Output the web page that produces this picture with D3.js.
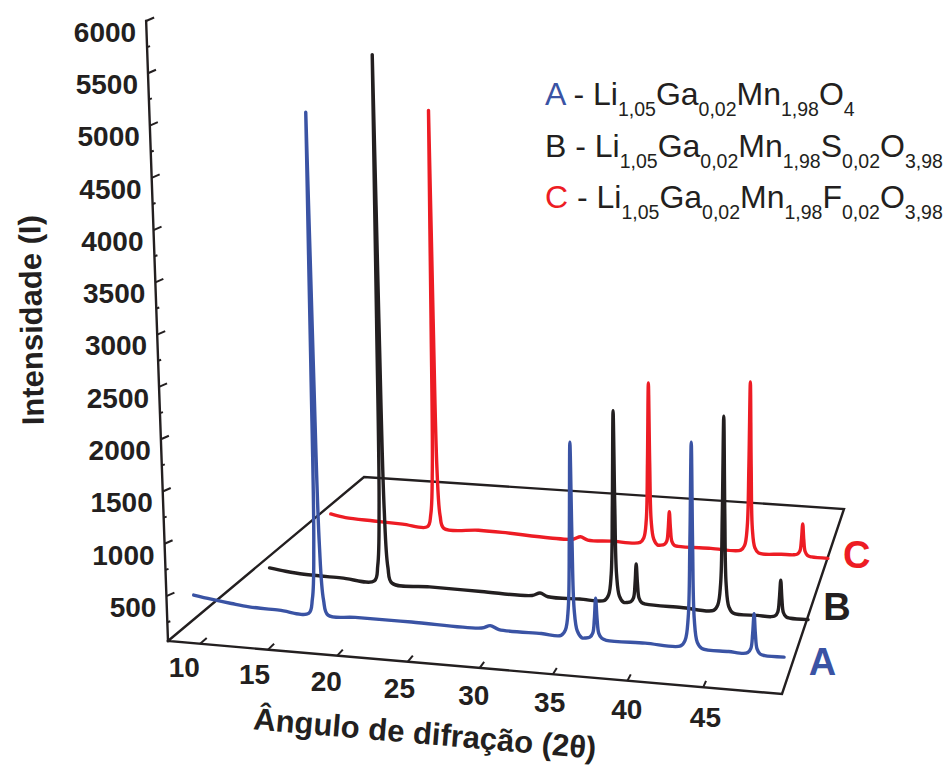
<!doctype html>
<html>
<head>
  <meta charset="utf-8">
  <style>
      body { margin:0; background:#fff; }
      svg  { display:block; }
      text { font-family:"Liberation Sans", Arial, Helvetica, sans-serif; fill:#231f20; }
      .frame line, .frame path { stroke:#231f20; stroke-width:2.4; fill:none; stroke-linecap:square; }
      .tick { stroke:#231f20; stroke-width:2; }
      .trace { fill:none; stroke-width:3.4; stroke-linejoin:round; stroke-linecap:round; }
  </style>
  <script src="https://cdn.jsdelivr.net/npm/d3@7"></script>
</head>
<body>
  <script>

      // ---- data ----
      var angleTicks = [10, 15, 20, 25, 30, 35, 40, 45];
      var intensityTicks = [500, 1000, 1500, 2000, 2500, 3000, 3500, 4000, 4500, 5000, 5500, 6000];
      var intensityMinor = [250, 750, 1250, 1750, 2250, 2750, 3250, 3750, 4250, 4750, 5250, 5750];

      var seriesNames = ["A", "B", "C"];

      // [2theta, intensity]
      var seriesA = [
         [9.2,480],[10.5,455],[12,430],[13.3,412],[15.5,405],
         [17.65,398],[17.95,542],[18.15,1070],[18.26,2799],[18.35,5200],[18.44,2799],[18.55,1070],[18.75,542],[19.05,398],
         [21,398],[25,400],[29.9,400],[30.5,430],[31.1,400],[34,396],
         [35.35,395],[35.65,451],[35.85,655],[35.96,1323],[36.05,2250],[36.14,1323],[36.25,655],[36.45,451],[36.75,390],
         [37.0,390],[37.3,402],[37.5,445],[37.61,585],[37.7,780],[37.79,585],[37.9,445],[38.1,400],[38.4,385],
         [41,390],
         [43.35,392],[43.65,451],[43.85,666],[43.96,1371],[44.05,2350],[44.14,1371],[44.25,660],[44.45,440],[44.75,385],
         [46.5,378],
         [47.45,372],[47.75,384],[47.95,426],[48.06,566],[48.15,760],[48.24,566],[48.35,426],[48.55,380],[48.85,368],
         [50.1,370]
      ];
      var seriesB = [
         [9.2,125],[10.5,105],[12,90],[15,84],
         [17.65,80],[17.95,231],[18.15,786],[18.26,2600],[18.35,5120],[18.44,2600],[18.55,780],[18.75,220],[19.05,72],
         [22,65],[26,60],[29.9,60],[30.5,90],[31.1,60],[33.5,62],
         [35.35,68],[35.65,123],[35.85,323],[35.96,979],[36.05,1890],[36.14,979],[36.25,320],[36.45,120],[36.75,65],
         [37.0,65],[37.3,76],[37.5,117],[37.61,253],[37.7,440],[37.79,253],[37.9,117],[38.1,75],[38.4,63],
         [41,58],
         [43.35,55],[43.65,111],[43.85,316],[43.96,988],[44.05,1920],[44.14,988],[44.25,310],[44.45,100],[44.75,45],
         [46.5,40],
         [47.45,38],[47.75,49],[47.95,88],[48.06,217],[48.15,395],[48.24,217],[48.35,88],[48.55,48],[48.85,38],
         [50.1,38]
      ];
      var seriesC = [
         [9.2,137],[10.5,112],[13,100],[15.5,90],
         [17.65,82],[17.95,202],[18.15,640],[18.26,2076],[18.35,4070],[18.44,2076],[18.55,635],[18.75,195],[19.05,78],
         [22,84],[24,80],[28,60],[29.9,64],[30.5,92],[31.1,66],[33,72],
         [35.35,80],[35.65,126],[35.85,294],[35.96,845],[36.05,1610],[36.14,845],[36.25,290],[36.45,120],[36.75,68],
         [37.0,68],[37.3,78],[37.5,114],[37.61,232],[37.7,395],[37.79,232],[37.9,112],[38.1,76],[38.4,68],
         [41,72],
         [43.35,76],[43.65,124],[43.85,302],[43.96,883],[44.05,1690],[44.14,883],[44.25,290],[44.45,110],[44.75,60],
         [46.5,65],
         [47.45,68],[47.75,77],[47.95,110],[48.06,219],[48.15,370],[48.24,219],[48.35,108],[48.55,70],[48.85,60],
         [50.1,58]
      ];

      // legend formulas: [element, subscript]
      var formulaA = [["Li","1,05"],["Ga","0,02"],["Mn","1,98"],["O","4"]];
      var formulaB = [["Li","1,05"],["Ga","0,02"],["Mn","1,98"],["S","0,02"],["O","3,98"]];
      var formulaC = [["Li","1,05"],["Ga","0,02"],["Mn","1,98"],["F","0,02"],["O","3,98"]];

      var xTitle = "Ângulo de difração (2θ)";
      var yTitle = "Intensidade (I)";

      // ---- layout / style ----
      var colors = ["#3a53a4", "#231f20", "#ed1c24"];
      var depths = [0.03, 0.42, 0.74];          // position of each trace in the depth direction
      var labelShift = [[9,-29],[2,-12],[4,-4]];

      // floor corners (front-left, front-right, back-left, back-right)
      var FL = [168,641], FR = [782,694], BL = [364,477], BR = [844,509];
      var vanishX = 690, vanishDist = 14800;

      var xScale = d3.scaleLinear().domain([7.6, 50.1]).range([0, 1]);
      var hScale = d3.scaleLinear().domain([70, 6000]).range([0, 620]);

      // slight foreshortening along the angle axis
      function warp(t) { return t * (0.922 + 0.078 * t); }

      function floorPt(u, v) {
         var fx = (1-u)*FL[0] + u*FR[0], fy = (1-u)*FL[1] + u*FR[1];
         var bx = (1-u)*BL[0] + u*BR[0], by = (1-u)*BL[1] + u*BR[1];
         return [(1-v)*fx + v*bx, (1-v)*fy + v*by];
      }

      function project(angle, depth, intensity) {
         var p = floorPt(warp(xScale(angle)), depth);
         var h = hScale(intensity);
         return [p[0] + (p[0]-vanishX)*h/vanishDist, p[1] - h];
      }

      var svg = d3.select("body").append("svg")
         .attr("width", 944)
         .attr("height", 767);

      // ---- floor and axes ----
      var frame = svg.append("g").attr("class", "frame");

      frame.append("path")
         .attr("d", d3.line()([FL, FR, BR, BL, FL]));

      var x0 = xScale.invert(0);
      var axisTop = project(x0, 0, 6000);
      frame.append("line")
         .attr("x1", FL[0]).attr("y1", FL[1])
         .attr("x2", axisTop[0]).attr("y2", axisTop[1]);

      // intensity ticks
      svg.append("g").selectAll("line")
         .data(intensityTicks)
         .enter()
         .append("line")
         .attr("class", "tick")
         .attr("x1", function(d) { return project(x0, 0, d)[0]; })
         .attr("y1", function(d) { return project(x0, 0, d)[1]; })
         .attr("x2", function(d) { return project(x0, 0, d)[0] + 8; })
         .attr("y2", function(d) { return project(x0, 0, d)[1] - 3.5; });

      svg.append("g").selectAll("line")
         .data(intensityMinor)
         .enter()
         .append("line")
         .attr("class", "tick")
         .attr("x1", function(d) { return project(x0, 0, d)[0]; })
         .attr("y1", function(d) { return project(x0, 0, d)[1]; })
         .attr("x2", function(d) { return project(x0, 0, d)[0] + 3; })
         .attr("y2", function(d) { return project(x0, 0, d)[1] - 1; });

      svg.append("g").selectAll("text")
         .data(intensityTicks)
         .enter()
         .append("text")
         .attr("x", function(d) { return project(x0, 0, d)[0] - 10; })
         .attr("y", function(d) { return project(x0, 0, d)[1] + 11; })
         .attr("dy", "0.35em")
         .attr("text-anchor", "end")
         .style("font-size", "28px")
         .style("font-weight", "bold")
         .text(function(d) { return d; });

      // angle ticks
      svg.append("g").selectAll("line")
         .data(angleTicks)
         .enter()
         .append("line")
         .attr("class", "tick")
         .attr("x1", function(d) { return floorPt(warp(xScale(d)), 0)[0]; })
         .attr("y1", function(d) { return floorPt(warp(xScale(d)), 0)[1]; })
         .attr("x2", function(d) { return floorPt(warp(xScale(d)), 0.035)[0]; })
         .attr("y2", function(d) { return floorPt(warp(xScale(d)), 0.035)[1]; });

      svg.append("g").selectAll("text")
         .data(angleTicks)
         .enter()
         .append("text")
         .attr("x", function(d) { var u = warp(xScale(d)); return floorPt(u, 0)[0] - 17 + 22*u; })
         .attr("y", function(d) { var u = warp(xScale(d)); return floorPt(u, 0)[1] + 23 + 8*u; })
         .attr("dy", "0.35em")
         .attr("text-anchor", "middle")
         .style("font-size", "28px")
         .style("font-weight", "bold")
         .text(function(d) { return d; });

      // titles
      svg.append("text")
         .attr("transform", "translate(424,744) rotate(4.9)")
         .attr("text-anchor", "middle")
         .style("font-size", "31px")
         .style("font-weight", "bold")
         .text(xTitle);

      svg.append("text")
         .attr("transform", "translate(42,320) rotate(-91)")
         .attr("text-anchor", "middle")
         .style("font-size", "31px")
         .style("font-weight", "bold")
         .text(yTitle);

      // ---- traces, back to front ----
      var allSeries = [seriesA, seriesB, seriesC];
      [2, 1, 0].forEach(function(i) {
         var line = d3.line()
            .x(function(d) { return project(d[0], depths[i], d[1])[0]; })
            .y(function(d) { return project(d[0], depths[i], d[1])[1]; })
            .curve(d3.curveCatmullRom.alpha(0.5));
         svg.append("path")
            .datum(allSeries[i])
            .attr("class", "trace")
            .attr("stroke", colors[i])
            .attr("d", line);
      });

      // series letters at the right end
      svg.append("g").selectAll("text")
         .data(seriesNames)
         .enter()
         .append("text")
         .attr("x", function(d,i) { return project(52, depths[i], 70)[0] + labelShift[i][0]; })
         .attr("y", function(d,i) { return project(52, depths[i], 70)[1] + labelShift[i][1]; })
         .attr("dy", "0.35em")
         .attr("text-anchor", "middle")
         .style("font-size", "38px")
         .style("font-weight", "bold")
         .style("fill", function(d,i) { return colors[i]; })
         .text(function(d) { return d; });

      // legend
      var formulas = [formulaA, formulaB, formulaC];
      var legend = svg.append("g");
      formulas.forEach(function(f, i) {
         var t = legend.append("text")
            .attr("x", 545)
            .attr("y", 105 + i*51.5)
            .style("font-size", "32px");
         t.append("tspan").style("fill", colors[i]).text(seriesNames[i]);
         t.append("tspan").text(" - ");
         f.forEach(function(part, j) {
            t.append("tspan").attr("dy", j ? -11 : 0).text(part[0]);
            t.append("tspan").attr("dy", 11).style("font-size", "19.5px").text(part[1]);
         });
      });

  </script>
</body>
</html>
